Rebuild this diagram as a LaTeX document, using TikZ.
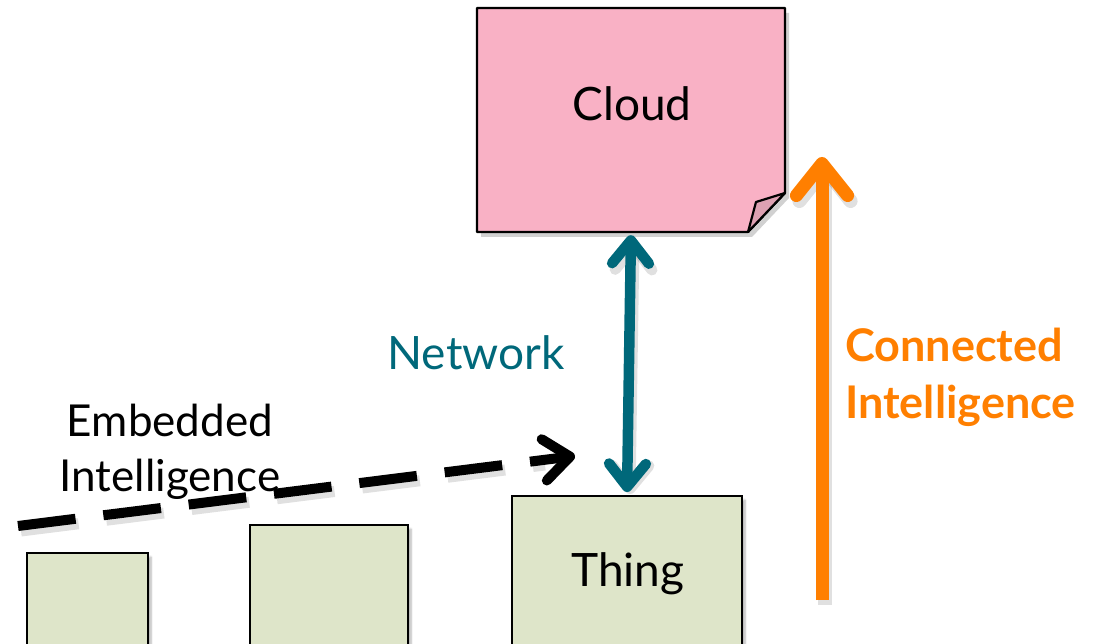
\documentclass[tikz,border=0pt]{standalone}
\usepackage{fontspec}
\setmainfont{Lato}
\usetikzlibrary{arrows.meta,shadows.blur,calc}
\definecolor{cloudpink}{HTML}{F9B1C5}
\definecolor{foldpink}{HTML}{DDA1B2}
\definecolor{thinggreen}{HTML}{DEE5C9}
\definecolor{netteal}{HTML}{00687A}
\definecolor{connorange}{HTML}{FF7F00}
\tikzset{
  box/.style={draw=black, line width=2pt, fill=thinggreen, inner sep=0pt,
    blur shadow={shadow xshift=3pt, shadow yshift=-4pt, shadow blur steps=6, shadow opacity=30}},
  label/.style={font=\fontsize{46}{50}\selectfont, inner sep=0pt},
  barb/.style={-{Straight Barb[length=#1, width=1.6*#1, line cap=round, line join=round]}},
  twobarb/.style={{Straight Barb[length=#1, width=1.6*#1, line cap=round, line join=round]}-{Straight Barb[length=#1, width=1.6*#1, line cap=round, line join=round]}},
  ghost/.style={draw=black, opacity=0.12, line cap=round},
}
\begin{document}
\begin{tikzpicture}[x=1pt,y=-1pt]
\useasboundingbox (0,0) rectangle (1112,644);

% cloud sheet with a turned-up corner
\path[fill=black, opacity=0.18] (481,13) -- (789,13) -- (789,198) -- (752,237) -- (481,237) -- cycle;
\draw[line width=2.2pt, fill=cloudpink, line join=round]
  (477,8) -- (785,8) -- (785,193) -- (748,232) -- (477,232) -- cycle;
\draw[line width=2.2pt, fill=foldpink, line join=round]
  (748,232) -- (756,202) -- (785,193) -- cycle;
\node[label, minimum width=308pt, minimum height=224pt] (cloud) at (631,120) {};
\node[label] (cloudtext) at (632,104) {Cloud};

% devices
\node[box, minimum width=121pt, minimum height=100pt] (dev1) at (87.5,603) {};
\node[box, minimum width=158pt, minimum height=130pt] (dev2) at (329,590) {};
\node[box, minimum width=230pt, minimum height=160pt] (thing) at (627,576) {};
\node[label] (thingtext) at (628,574) {Thing};

% labels
\node[label, text=netteal] (network) at (476,353) {Network};
\node[label, align=center, font=\fontsize{44}{55}\selectfont] (embedded) at (170,452) {Embedded\\Intelligence};
\node[label, align=left, text=connorange, font=\bfseries\fontsize{45}{57}\selectfont, anchor=west] (connected) at (845,377) {Connected\\Intelligence};

% network link between thing and cloud
\draw[ghost, line width=11pt, twobarb=23pt] ($(cloud.south)+(3,9)$) -- ($(thing.north)+(3,-1)$);
\draw[netteal, line width=10.5pt, line cap=round, twobarb=23pt, shorten <=3pt, shorten >=3pt] (cloud.south) -- (thing.north);

% connected intelligence arrow
\coordinate (cibase) at (822,600);
\coordinate (citip) at (822,157);
\draw[ghost, line width=14pt, barb=32pt, line cap=butt] ($(cibase)+(3,5)$) -- ($(citip)+(3,5)$);
\draw[connorange, line width=13pt, barb=32pt] (cibase) -- (citip);

% embedded intelligence trend
\coordinate (eistart) at (18,526);
\coordinate (eiend) at (575,456);
\draw[ghost, line width=11pt, dash pattern=on 58pt off 28pt, line cap=butt] ($(eistart)+(3,5)$) -- ($(eiend)+(-30,9)$);
\draw[black, line width=10pt, dash pattern=on 58pt off 28pt, barb=26pt] (eistart) -- (eiend);
\end{tikzpicture}
\end{document}
